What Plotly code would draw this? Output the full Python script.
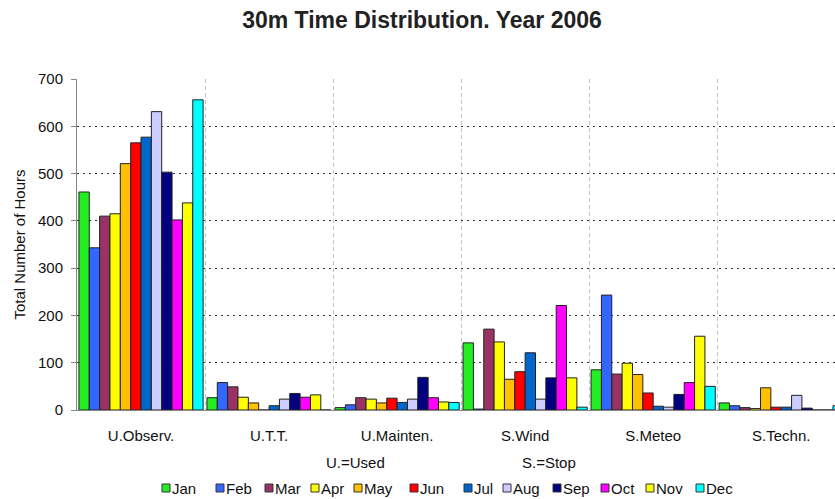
import plotly.graph_objects as go

# Hours per state category, one series per month (2006)
categories = ["U.Observ.", "U.T.T.", "U.Mainten.", "S.Wind", "S.Meteo", "S.Techn."]
months = ["Jan", "Feb", "Mar", "Apr", "May", "Jun",
          "Jul", "Aug", "Sep", "Oct", "Nov", "Dec"]

jan = [461, 26, 5, 142, 85, 15]
feb = [343, 58, 11, 2, 243, 9]
mar = [410, 49, 26, 171, 76, 5]
apr = [415, 27, 23, 144, 99, 3]
may = [521, 15, 15, 65, 75, 47]
jun = [565, 0, 25, 81, 36, 6]
jul = [577, 9, 16, 121, 8, 6]
aug = [631, 23, 23, 23, 6, 31]
sep = [503, 35, 69, 68, 33, 4]
oct_ = [402, 27, 26, 221, 58, 0]
nov = [438, 32, 17, 68, 156, 0]
dec = [656, 0, 16, 6, 50, 9]

series = [jan, feb, mar, apr, may, jun, jul, aug, sep, oct_, nov, dec]
colors = ["#22EE22", "#3366FF", "#993366", "#FFFF00", "#FFC000", "#FF0000",
          "#0066CC", "#CCCCFF", "#000080", "#FF00FF", "#FFFF00", "#00FFFF"]

FONT = "Liberation Sans, Arial, sans-serif"
W, H = 835, 499
ML, MR, MT, MB = 77, 0, 79, 89
PW, PH = W - ML - MR, H - MT - MB

fig = go.Figure()
for name, vals, col in zip(months, series, colors):
    fig.add_trace(go.Bar(
        name=name, x=categories, y=vals,
        marker=dict(color=col, line=dict(color="#222222", width=1)),
        showlegend=False,
    ))


def px_x(p):
    return (p - ML) / PW


def px_y(p):
    return (H - MB - p) / PH


# Legend row beneath the axis: swatch + month label
legend_left = [162, 216, 265, 311, 354, 410, 464, 503, 553, 601, 646, 696]
legend_y = 488
shapes = []
annotations = []
for name, col, lx in zip(months, colors, legend_left):
    shapes.append(dict(
        type="rect", xref="paper", yref="paper",
        x0=px_x(lx), x1=px_x(lx + 8),
        y0=px_y(legend_y + 4), y1=px_y(legend_y - 4),
        fillcolor=col, line=dict(color="#333333", width=1),
    ))
    annotations.append(dict(
        xref="paper", yref="paper", x=px_x(lx + 10), y=px_y(legend_y),
        xanchor="left", yanchor="middle", showarrow=False,
        text=name, font=dict(family=FONT, size=15, color="#111111"),
        borderpad=0, borderwidth=0,
    ))

# Abbreviation key
for txt, cx in [("U.=Used", 355), ("S.=Stop", 549)]:
    annotations.append(dict(
        xref="paper", yref="paper", x=px_x(cx), y=px_y(462),
        xanchor="center", yanchor="middle", showarrow=False,
        text=txt, font=dict(family=FONT, size=15, color="#111111"),
    ))

fig.update_layout(
    width=W, height=H,
    margin=dict(l=ML, r=MR, t=MT, b=MB),
    paper_bgcolor="white", plot_bgcolor="white",
    barmode="group", bargap=0.03, bargroupgap=0,
    title=dict(
        text="<b>30m Time Distribution. Year 2006</b>",
        x=422 / W, xref="container", xanchor="center",
        y=1 - 20 / H, yref="container", yanchor="middle",
        font=dict(family=FONT, size=23, color="#222222"),
    ),
    font=dict(family=FONT, size=15, color="#111111"),
    shapes=shapes,
    annotations=annotations,
)

fig.update_xaxes(
    type="category", range=[-0.5, 5.42],
    tickson="boundaries", ticks="", ticklabelstandoff=12,
    showgrid=True, gridcolor="#C4C4C4", griddash="4px,3px", gridwidth=1,
    showline=True, linecolor="#888888", linewidth=1,
    tickfont=dict(family=FONT, size=15, color="#111111"),
)
fig.update_yaxes(
    range=[0, 700], dtick=100,
    showgrid=True, gridcolor="#333333", griddash="2px,4px", gridwidth=1,
    showline=True, linecolor="#888888", linewidth=1,
    ticks="outside", ticklen=5, tickcolor="#888888", ticklabelstandoff=5,
    tickfont=dict(family=FONT, size=15, color="#111111"),
    title=dict(text="Total Number of Hours",
               font=dict(family=FONT, size=15, color="#111111"), standoff=8),
    zeroline=False,
)

fig.write_html("out.html")
